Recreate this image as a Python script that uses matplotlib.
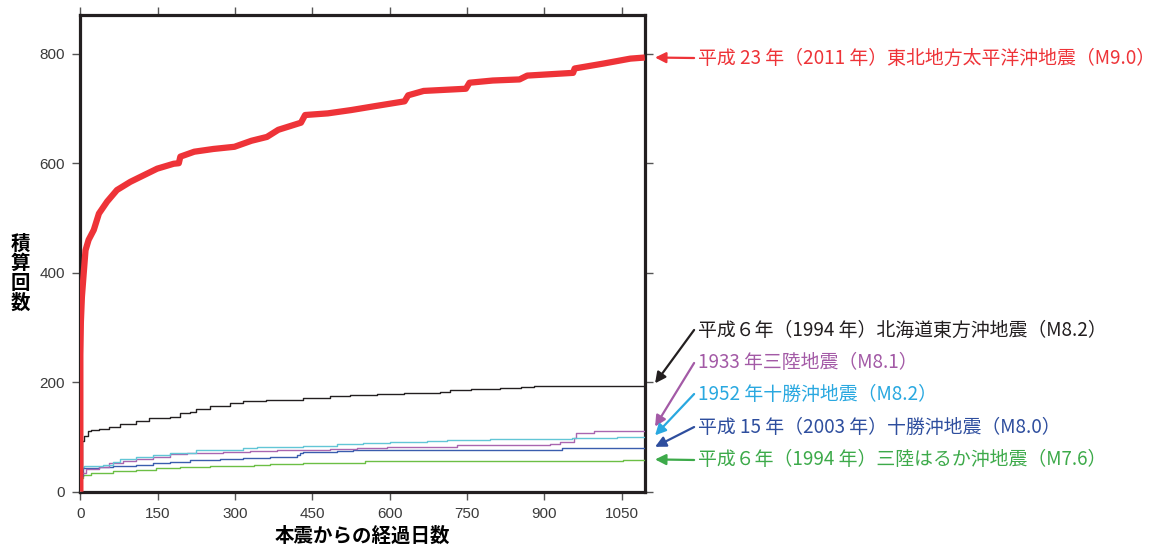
import numpy as np
import matplotlib
matplotlib.use("Agg")
import matplotlib.pyplot as plt

plt.rcParams['font.family'] = ['Noto Sans CJK JP', 'DejaVu Sans']

# cumulative counts (days after mainshock, count)
red_days = [0, 0, 1, 3, 6, 10, 16, 26, 36, 52, 71, 97, 123, 149, 181, 191, 194, 221, 258, 299, 332,
            362, 384, 428, 436, 480, 525, 570, 629, 636, 666, 748, 755, 800, 852, 867, 956, 959,
            1015, 1067, 1095]
red_counts = [0, 250, 310, 356, 393, 441, 460, 478, 508, 530, 551, 566, 578, 590, 599, 600, 612, 621,
              626, 630, 641, 648, 661, 674, 688, 691, 697, 704, 713, 724, 732, 736, 747, 751, 753,
              760, 765, 773, 782, 791, 793]

black_days = [0, 0, 1, 4, 8, 14, 20, 37, 56, 76, 108, 134, 173, 193, 212, 225, 251, 290, 316, 361,
              432, 484, 523, 576, 627, 698, 718, 757, 815, 854, 880, 1095]
black_counts = [0, 30, 46, 92, 101, 110, 112, 114, 119, 123, 130, 134, 137, 143, 146, 151, 156, 162,
                165, 168, 171, 174, 176, 178, 180, 182, 186, 188, 190, 192, 194, 194]

purple_days = [0, 0, 2, 10, 37, 56, 82, 108, 140, 173, 206, 251, 277, 329, 381, 432, 484, 536, 595,
               731, 912, 931, 954, 957, 962, 996, 1095]
purple_counts = [0, 15, 34, 41, 46, 52, 56, 59, 64, 68, 70, 71, 72, 75, 76, 77, 78, 79, 81, 85, 87,
                 90, 91, 99, 108, 110, 110]

cyan_days = [0, 0, 1, 3, 8, 44, 63, 76, 108, 140, 173, 225, 316, 342, 400, 432, 497, 549, 601, 672,
             711, 795, 880, 954, 1041, 1095]
cyan_counts = [0, 20, 40, 46, 47, 49, 55, 59, 63, 67, 71, 76, 79, 81, 82, 84, 87, 89, 91, 93, 95, 96,
               97, 99, 100, 100]

blue_days = [0, 0, 2, 6, 37, 63, 108, 140, 173, 212, 270, 316, 368, 420, 426, 432, 497, 529, 934, 1095]
blue_counts = [0, 10, 29, 43, 45, 47, 49, 52, 55, 58, 60, 62, 64, 67, 70, 73, 75, 76, 79, 79]

green_days = [0, 0, 2, 6, 20, 63, 108, 147, 193, 251, 336, 368, 432, 552, 1053, 1095]
green_counts = [0, 12, 25, 31, 34, 38, 40, 43, 46, 47, 48, 51, 53, 57, 58, 58]

labels = [
    "平成 23 年（2011 年）東北地方太平洋沖地震（M9.0）",
    "平成６年（1994 年）北海道東方沖地震（M8.2）",
    "1933 年三陸地震（M8.1）",
    "1952 年十勝沖地震（M8.2）",
    "平成 15 年（2003 年）十勝沖地震（M8.0）",
    "平成６年（1994 年）三陸はるか沖地震（M7.6）",
]

xticks = [0, 150, 300, 450, 600, 750, 900, 1050]
yticks = [0, 200, 400, 600, 800]

fig = plt.figure(figsize=(11.53, 5.53), dpi=100)
ax = fig.add_axes([0.0697, 0.1108, 0.4895, 0.8624])

ax.step(black_days, black_counts, where='post', color='#231f20', lw=1.0, zorder=3)
ax.step(green_days, green_counts, where='post', color='#6cbf45', lw=1.0, zorder=3)
ax.step(blue_days, blue_counts, where='post', color='#3a5dae', lw=1.0, zorder=3)
ax.step(purple_days, purple_counts, where='post', color='#a966b0', lw=1.0, zorder=3)
ax.step(cyan_days, cyan_counts, where='post', color='#62c6d6', lw=1.0, zorder=3)
ax.plot(red_days, red_counts, color='#ee3338', lw=4.5, zorder=4, solid_capstyle='butt')

ax.set_xlim(0, 1095)
ax.set_ylim(0, 871)
ax.set_xticks(xticks)
ax.set_yticks(yticks)
ax.tick_params(direction='out', length=6, width=1, color='#555555', labelcolor='#3a3a3a',
               top=True, right=True, pad=5)
for lab in ax.get_xticklabels() + ax.get_yticklabels():
    lab.set_fontfamily('Liberation Sans')
    lab.set_fontsize(11)
for s in ax.spines.values():
    s.set_linewidth(2.3)
    s.set_color('#231f20')

ax.set_xlabel("本震からの経過日数", fontsize=14, fontweight='bold', labelpad=4)
fig.text(0.018, 0.505, "積\n算\n回\n数", fontsize=14, fontweight='bold',
         ha='center', va='center', linespacing=1.05)

# annotations: (series end value, y offset of arrow tip, text y in figure fraction, text colour)
ends = [red_counts[-1], black_counts[-1], purple_counts[-1], cyan_counts[-1], blue_counts[-1],
        green_counts[-1]]
tip_offsets = [0, 4, 9, 3, 3, 1]
text_y = [0.8951, 0.4033, 0.3436, 0.2875, 0.2278, 0.1682]
colors = ['#ee3338', '#231f20', '#a35aa6', '#29a8e0', '#2e4e9e', '#3daa4a']

for lab, end, off, ty, c in zip(labels, ends, tip_offsets, text_y, colors):
    ax.annotate('', xy=(1115, end + off), xycoords='data',
                xytext=(0.602, ty), textcoords='figure fraction',
                arrowprops=dict(arrowstyle='-|>', color=c, lw=1.6, mutation_scale=16,
                                shrinkA=0, shrinkB=0),
                annotation_clip=False)
    fig.text(0.6055, ty, lab, color=c, fontsize=13.6, ha='left', va='center')

fig.savefig('out.png', dpi=100)
